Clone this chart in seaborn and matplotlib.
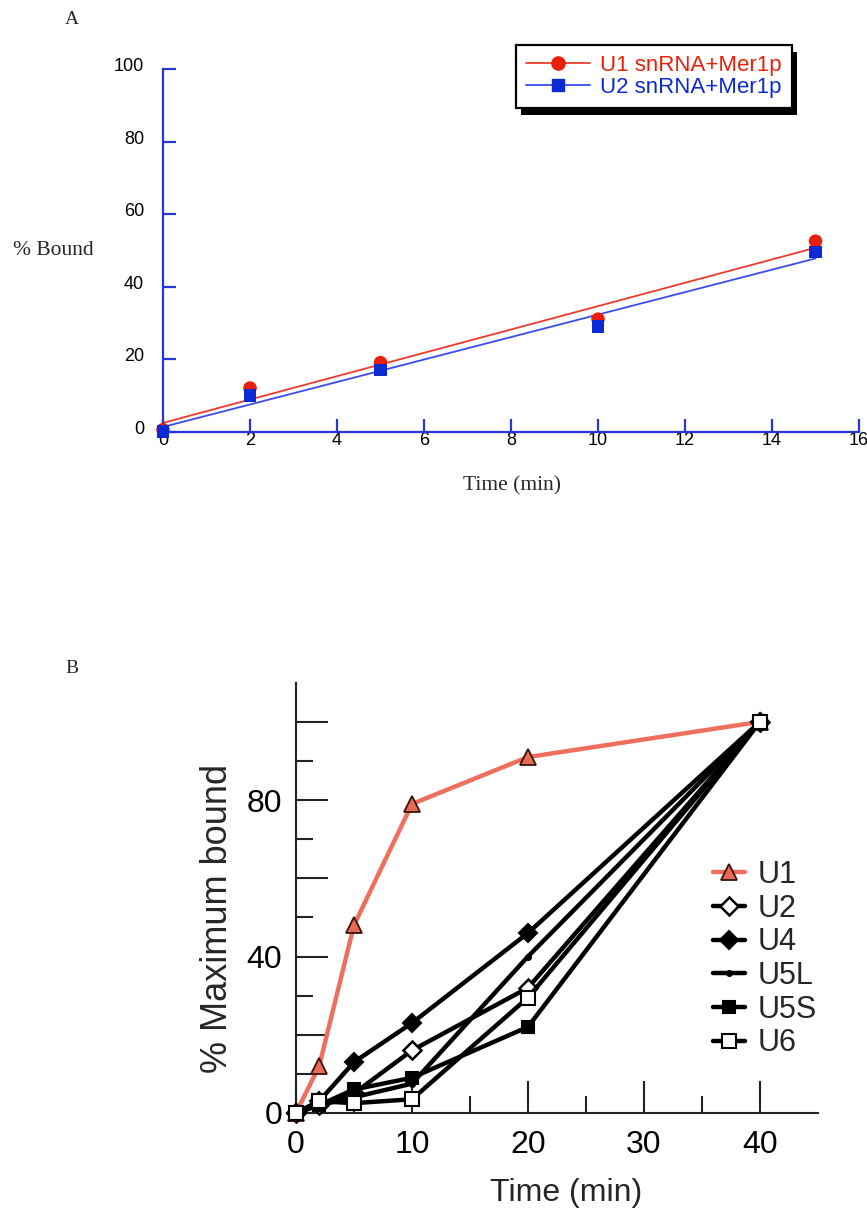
import matplotlib
matplotlib.use('Agg')
import matplotlib.pyplot as plt
import matplotlib.transforms as mtransforms
import seaborn as sns
from matplotlib.lines import Line2D
from matplotlib.patches import Rectangle
from matplotlib.ticker import FixedLocator

# Panel A: % bound over time, U1 / U2 snRNA with Mer1p
time_a = [0, 2, 5, 10, 15]
u1_mer1p = [0.5, 12, 19, 31, 52.5]
u2_mer1p = [0, 10, 17, 29, 49.5]
labels_a = ['U1 snRNA+Mer1p', 'U2 snRNA+Mer1p']

# Panel B: % maximum bound for each snRNA
time_b = [0, 2, 5, 10, 20, 40]
snrna_b = ['U1', 'U2', 'U4', 'U5L', 'U5S', 'U6']
bound_u1 = [0, 12, 48, 79, 91, 100]
bound_u2 = [0, 2, 5, 16, 32, 100]
bound_u4 = [0, 3, 13, 23, 46, 100]
bound_u5l = [0, 2, 4, 7.5, 40, 100]
bound_u5s = [0, 2, 6, 9, 22, 100]
bound_u6 = [0, 3, 2.5, 3.5, 29.5, 100]

sns.set_theme(style='white')
plt.rcParams['font.family'] = ['Liberation Sans', 'DejaVu Sans']

RED = '#e82008'
RED_LINE = '#f03a2c'
BLUE = '#0c2ad4'
BLUE_LINE = '#3a4cf0'
AXBLUE = '#2436dc'
SALMON = '#ef6f5e'
DARK = '#222222'

fig = plt.figure(figsize=(8.67, 12.17), dpi=100)

# ---------------- panel A ----------------
axA = fig.add_axes([0.188, 0.6454, 0.8028, 0.2979])
sns.regplot(x=time_a, y=u1_mer1p, ax=axA, scatter=False, ci=None, truncate=True,
            line_kws=dict(color=RED_LINE, lw=1.3, zorder=2))
sns.regplot(x=time_a, y=u2_mer1p, ax=axA, scatter=False, ci=None, truncate=True,
            line_kws=dict(color=BLUE_LINE, lw=1.3, zorder=2))
sns.scatterplot(x=time_a, y=u1_mer1p, ax=axA, marker='o', s=95, color=RED,
                edgecolor='none', zorder=3, clip_on=False)
sns.scatterplot(x=time_a, y=u2_mer1p, ax=axA, marker='s', s=85, color=BLUE,
                edgecolor='none', zorder=4, clip_on=False)

axA.set_xlim(0, 16)
axA.set_ylim(0, 100)
axA.set_xticks(range(0, 17, 2))
axA.set_yticks(range(0, 101, 20))
for s in ['top', 'right']:
    axA.spines[s].set_visible(False)
for s in ['left', 'bottom']:
    axA.spines[s].set_color(AXBLUE)
    axA.spines[s].set_linewidth(1.6)
axA.tick_params(axis='both', bottom=True, left=True, direction='in', length=9.5,
                width=1.6, color=AXBLUE, labelsize=13, labelcolor='black')
axA.tick_params(axis='x', pad=0)
axA.tick_params(axis='y', pad=13.5)
for lab in axA.get_xticklabels() + axA.get_yticklabels():
    lab.set_family(['Liberation Sans Narrow', 'Liberation Sans'])
up = mtransforms.ScaledTranslation(0, 3 / 72, fig.dpi_scale_trans)
for lab in axA.get_yticklabels():
    lab.set_transform(lab.get_transform() + up)

axA.set_xlabel('Time (min)', family=['Liberation Serif'], fontsize=15.5, va='center')
axA.xaxis.set_label_coords(0.501, -0.149)
axA.set_ylabel('% Bound', family=['Liberation Serif'], fontsize=15.5, rotation=0,
               ha='center', va='center')
axA.yaxis.set_label_coords(-0.157, 0.5)

handles_a = [
    Line2D([], [], color=RED_LINE, lw=1.3, marker='o', ms=9.5, mfc=RED, mec=RED),
    Line2D([], [], color=BLUE_LINE, lw=1.3, marker='s', ms=9, mfc=BLUE, mec=BLUE),
]
legA = axA.legend(handles_a, labels_a, loc='upper left', bbox_to_anchor=(0.507, 1.066),
                  frameon=True, fancybox=False, edgecolor='black', framealpha=1,
                  fontsize=16, handlelength=2.9, handletextpad=0.45,
                  labelspacing=0.02, borderpad=0.45, borderaxespad=0)
legA.get_frame().set_linewidth(1.6)
for txt, c in zip(legA.get_texts(), [RED, BLUE]):
    txt.set_color(c)

fig.text(0.083, 0.984, 'A', family=['Liberation Serif'], fontsize=14, ha='center', va='center')

# ---------------- panel B ----------------
axB = fig.add_axes([0.3414, 0.0855, 0.602, 0.3535])
styles_b = {
    'U1': dict(color=SALMON, marker='^', ms=12, mfc='#e66a55', mec='#3a1408', mew=1.3),
    'U2': dict(color='black', marker='D', ms=9, mfc='white', mec='black', mew=1.8),
    'U4': dict(color='black', marker='D', ms=9, mfc='black', mec='black', mew=1.5),
    'U5L': dict(color='black', marker='o', ms=4, mfc='black', mec='black', mew=1),
    'U5S': dict(color='black', marker='s', ms=9, mfc='black', mec='black', mew=1.5),
    'U6': dict(color='black', marker='s', ms=10, mfc='white', mec='black', mew=1.5),
}
series_b = [bound_u1, bound_u2, bound_u4, bound_u5l, bound_u5s, bound_u6]
for i, (name, vals) in enumerate(zip(snrna_b, series_b)):
    sns.lineplot(x=time_b, y=vals, ax=axB, lw=3.2, label=name, clip_on=False,
                 zorder=3 + i, **styles_b[name])

axB.set_xlim(0, 45)
axB.set_ylim(0, 110)
axB.xaxis.set_major_locator(FixedLocator([0, 10, 20, 30, 40]))
axB.xaxis.set_minor_locator(FixedLocator([5, 15, 25, 35]))
axB.yaxis.set_major_locator(FixedLocator([0, 20, 40, 60, 80, 100]))
axB.yaxis.set_minor_locator(FixedLocator([10, 30, 50, 70, 90]))
axB.set_yticklabels(['0', '', '40', '', '80', ''])
for s in ['top', 'right']:
    axB.spines[s].set_visible(False)
for s in ['left', 'bottom']:
    axB.spines[s].set_color(DARK)
    axB.spines[s].set_linewidth(1.5)
axB.tick_params(axis='both', which='both', bottom=True, left=True)
axB.tick_params(axis='both', which='major', direction='in', length=23, width=1.5,
                color=DARK, labelsize=23, labelcolor='black')
axB.tick_params(axis='both', which='minor', direction='in', length=12, width=1.5,
                color=DARK)
axB.tick_params(axis='x', which='major', pad=12)
axB.tick_params(axis='y', which='major', pad=10)

axB.set_xlabel('Time (min)', fontsize=23, va='center')
axB.xaxis.set_label_coords(0.517, -0.187)
axB.set_ylabel('% Maximum bound', fontsize=26, va='center')
axB.yaxis.set_label_coords(-0.151, 0.453)

legB = axB.legend(loc='upper left', bbox_to_anchor=(0.799, 0.588), frameon=False,
                  fontsize=22, handlelength=1.05, handletextpad=0.4, labelspacing=0.12,
                  borderpad=0, borderaxespad=0)

fig.text(0.083, 0.4503, 'B', family=['Liberation Serif'], fontsize=14, ha='center', va='center')

# drop shadow behind legend A
fig.canvas.draw()
bb = legA.get_window_extent()
shadow = Rectangle((bb.x0 + 5, bb.y0 - 7), bb.width, bb.height,
                   transform=mtransforms.IdentityTransform(), facecolor='black',
                   edgecolor='none', zorder=legA.get_zorder() - 0.1, clip_on=False)
axA.add_artist(shadow)

fig.savefig('out.png', dpi=100)
plt.close(fig)
